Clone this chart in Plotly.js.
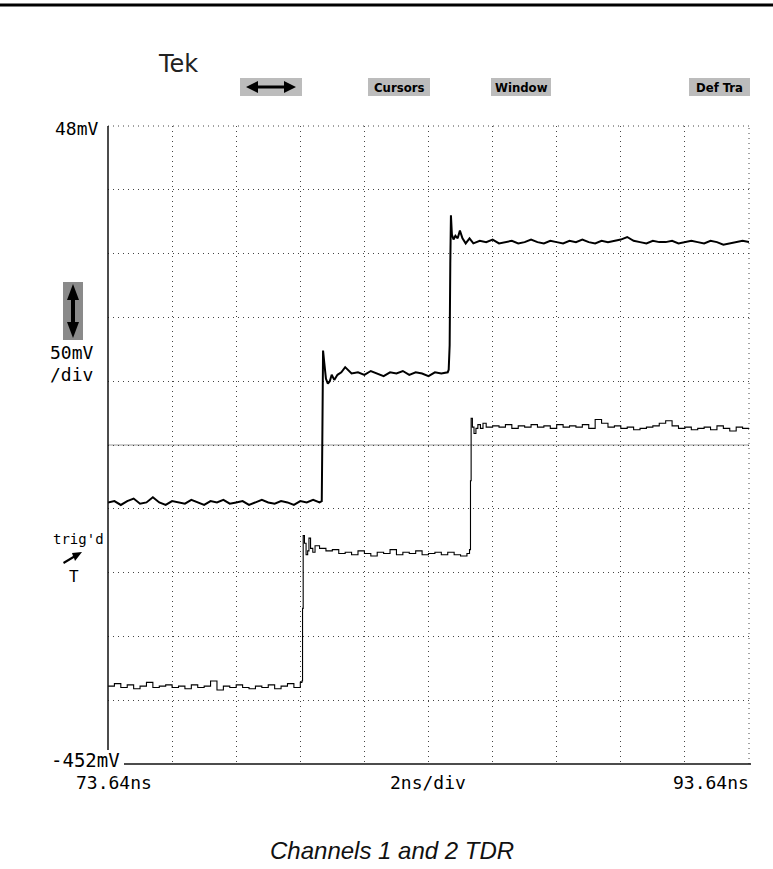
<!DOCTYPE html>
<html>
<head>
<meta charset="utf-8">
<script src="https://cdn.plot.ly/plotly-3.0.1.min.js"></script>
<style>html,body{margin:0;padding:0;background:#fff}#chart{width:773px;height:869px}</style>
</head>
<body>
<div id="chart"></div>
<script>
// ---------- data ----------
var xRange = [73.64, 93.64];      // ns
var yRange = [-452, 48];          // mV
var xDiv = 2, yDiv = 50;

// Channel 1 (thick trace)
var ch1_t = [
  73.64,73.84,74.04,74.24,74.44,74.64,74.84,75.04,75.24,75.44,
  75.64,75.84,76.04,76.24,76.44,76.64,76.84,77.04,77.24,77.44,
  77.64,77.84,78.04,78.24,78.44,78.64,78.84,79.04,79.24,79.44,
  79.64,79.84,80.04,80.24,
  80.31,80.33,80.35,80.39,80.44,80.50,80.56,80.62,80.70,80.80,80.92,
  81.04,81.24,81.44,81.64,81.84,82.04,82.24,82.44,82.64,82.84,
  83.04,83.24,83.44,83.64,83.84,84.04,84.24,
  84.27,84.30,84.32,84.34,84.37,84.42,84.48,84.55,84.62,84.70,84.80,84.92,
  85.04,85.24,85.44,85.64,85.84,86.04,86.24,86.44,86.64,86.84,
  87.04,87.24,87.44,87.64,87.84,88.04,88.24,88.44,88.64,88.84,
  89.04,89.24,89.44,89.64,89.84,90.04,90.24,90.44,90.64,90.84,
  91.04,91.24,91.44,91.64,91.84,92.04,92.24,92.44,92.64,92.84,
  93.04,93.24,93.44,93.64
];
var ch1_mv = [
  -247,-246,-249,-246,-244,-248,-247,-243,-247,-249,
  -246,-247,-248,-245,-247,-249,-246,-247,-245,-248,
  -247,-246,-249,-247,-245,-247,-248,-246,-247,-249,
  -246,-247,-245,-247,
  -246,-190,-128,-138,-150,-154,-152,-147,-151,-147,-145,
  -141,-146,-145,-147,-144,-146,-148,-145,-146,-144,
  -147,-145,-146,-148,-145,-146,-145,
  -143,-124,-60,-22,-37,-41,-38,-40,-34,-40,-44,-40,
  -44,-42,-43,-41,-44,-43,-42,-44,-43,-41,
  -43,-44,-42,-43,-44,-42,-43,-41,-43,-44,
  -42,-43,-42,-41,-39,-42,-43,-44,-42,-43,
  -43,-42,-44,-43,-42,-43,-44,-42,-43,-45,
  -44,-43,-42,-43
];

// Channel 2 (thin trace)
var ch2_t = [
  73.64,73.84,74.04,74.24,74.44,74.64,74.84,75.04,75.24,75.44,
  75.64,75.84,76.04,76.24,76.44,76.64,76.84,77.04,77.24,77.44,
  77.64,77.84,78.04,78.24,78.44,78.64,78.84,79.04,79.24,79.44,
  79.64,
  79.69,79.71,79.73,79.77,79.82,79.87,79.91,79.96,80.03,80.10,
  80.24,80.44,80.64,80.84,81.04,81.24,81.44,81.64,81.84,82.04,
  82.24,82.44,82.64,82.84,83.04,83.24,83.44,83.64,83.84,84.04,
  84.24,84.44,84.64,84.84,
  84.92,84.95,84.97,85.01,85.06,85.12,85.18,85.26,85.34,85.44,
  85.64,85.84,86.04,86.24,86.44,86.64,86.84,87.04,87.24,87.44,
  87.64,87.84,88.04,88.24,88.44,88.64,88.84,89.04,89.24,89.44,
  89.64,89.84,90.04,90.24,90.44,90.64,90.84,91.04,91.24,91.44,
  91.64,91.84,92.04,92.24,92.44,92.64,92.84,93.04,93.24,93.44,
  93.64
];
var ch2_mv = [
  -391,-389,-392,-390,-393,-391,-388,-392,-391,-390,
  -392,-391,-393,-390,-392,-391,-387,-394,-391,-392,
  -390,-392,-393,-391,-392,-390,-393,-391,-389,-392,
  -388,
  -387,-330,-273,-279,-288,-285,-275,-283,-286,-281,
  -283,-285,-284,-287,-286,-288,-285,-287,-289,-286,
  -287,-284,-288,-286,-287,-285,-288,-287,-286,-288,
  -286,-288,-289,-287,
  -284,-230,-181,-188,-193,-189,-186,-189,-185,-188,
  -187,-188,-186,-189,-187,-188,-186,-188,-187,-189,
  -186,-188,-187,-188,-186,-189,-182,-185,-188,-187,
  -189,-188,-190,-189,-188,-187,-185,-183,-187,-189,
  -188,-190,-189,-188,-190,-187,-189,-191,-188,-189,
  -190
];

// screen texts
var topLabel = "48mV", bottomLabel = "-452mV";
var xLeftLabel = "73.64ns", xMidLabel = "2ns/div", xRightLabel = "93.64ns";
var voltsDiv = ["50mV", "/div"];
var menuItems = ["", "Cursors", "Window", "Def Tra"];
var caption = "Channels 1 and 2 TDR";

// ---------- layout helpers (pixel -> paper) ----------
var L = 108, R = 749, T = 126, B = 764;
function X(px){ return (px - L) / (R - L); }
function Y(py){ return (B - py) / (B - T); }

var mono = "DejaVu Sans Mono";
function txt(text, px, py, xa, size, extra){
  var a = {text: text, x: X(px), y: Y(py), xref: "paper", yref: "paper",
    xanchor: xa, yanchor: "middle", showarrow: false,
    font: {family: mono, size: size, color: "#000"}};
  if (extra) for (var k in extra) a[k] = extra[k];
  return a;
}

var annotations = [
  txt(topLabel, 101, 128, "right", 18),
  txt(bottomLabel, 49, 760, "left", 19),
  txt(xLeftLabel, 74, 782, "left", 18),
  txt(xMidLabel, 428, 782, "center", 18),
  txt(xRightLabel, 751, 782, "right", 18),
  txt(voltsDiv[0], 48, 352, "left", 18),
  txt(voltsDiv[1], 48, 374, "left", 18),
  txt("trig'd", 51, 539, "left", 14),
  txt("T", 74, 576, "center", 16),
  {text: "Tek", x: X(156), y: Y(64), xref: "paper", yref: "paper", xanchor: "left", yanchor: "middle",
   showarrow: false, font: {family: "DejaVu Sans", size: 24, color: "#222"}},
  {text: caption, x: X(392), y: Y(851), xref: "paper", yref: "paper", xanchor: "center", yanchor: "middle",
   showarrow: false, font: {family: "Liberation Sans", size: 24, style: "italic", color: "#111"}}
];

var menuBoxes = [[240, 302], [368, 430], [491, 551], [689, 750]];
var shapes = [];
menuBoxes.forEach(function(b, i){
  shapes.push({type: "rect", xref: "paper", yref: "paper", x0: X(b[0]), x1: X(b[1]), y0: Y(96), y1: Y(78),
    fillcolor: "#bcbcbc", line: {width: 0}, layer: "above"});
  if (menuItems[i]) annotations.push({text: "<b>" + menuItems[i] + "</b>", x: X((b[0] + b[1]) / 2), y: Y(87),
    xref: "paper", yref: "paper", xanchor: "center", yanchor: "middle", showarrow: false,
    font: {family: "DejaVu Sans Condensed", size: 13, color: "#000"}});
});
function path(pts){
  return "M" + pts.map(function(p){ return X(p[0]) + "," + Y(p[1]); }).join(" L") + " Z";
}
// horizontal double arrow in first menu box
shapes.push({type: "path", xref: "paper", yref: "paper", fillcolor: "#000", line: {width: 0}, layer: "above",
  path: path([[246,87],[258,81],[258,85.5],[284,85.5],[284,81],[296,87],[284,93],[284,88.5],[258,88.5],[258,93]])});
// vertical double arrow icon
shapes.push({type: "rect", xref: "paper", yref: "paper", x0: X(63), x1: X(83), y0: Y(340), y1: Y(282),
  fillcolor: "#8a8a8a", line: {width: 0}, layer: "above"});
shapes.push({type: "path", xref: "paper", yref: "paper", fillcolor: "#000", line: {width: 0}, layer: "above",
  path: path([[73,284],[79,300],[75,300],[75,322],[79,322],[73,338],[67,322],[71,322],[71,300],[67,300]])});
// trigger slanted arrow
shapes.push({type: "path", xref: "paper", yref: "paper", fillcolor: "#000", line: {width: 0}, layer: "above",
  path: path([[63,562],[64,564],[74,558],[75,561],[82,552],[72,553],[73,556]])});
// axes frame lines
shapes.push({type: "line", xref: "paper", yref: "paper", x0: 0, x1: 0, y0: Y(750), y1: 1,
  line: {color: "#111", width: 1.5}, layer: "above"});
shapes.push({type: "line", xref: "paper", yref: "paper", x0: X(124), x1: X(751), y0: 0, y1: 0,
  line: {color: "#111", width: 1.5}, layer: "above"});
// dotted top and right graticule edges
shapes.push({type: "line", xref: "paper", yref: "paper", x0: 0, x1: 1, y0: 1, y1: 1,
  line: {color: "#444", width: 1, dash: "1px,4px"}, layer: "below"});
shapes.push({type: "line", xref: "paper", yref: "paper", x0: 1, x1: 1, y0: 0, y1: 1,
  line: {color: "#444", width: 1, dash: "1px,4px"}, layer: "below"});
// dense center graticule line
shapes.push({type: "line", xref: "paper", yref: "paper", x0: 0, x1: 1, y0: 0.5, y1: 0.5,
  line: {color: "#9a9a9a", width: 1}, layer: "below"});
// page rule at the very top
shapes.push({type: "line", xref: "paper", yref: "paper", x0: X(0), x1: X(773), y0: Y(5), y1: Y(5),
  line: {color: "#000", width: 3}});

var traces = [
  {x: ch1_t, y: ch1_mv, type: "scatter", mode: "lines", line: {color: "#000", width: 2}, hoverinfo: "skip"},
  {x: ch2_t, y: ch2_mv, type: "scatter", mode: "lines", line: {color: "#000", width: 1.1, shape: "hv"}, hoverinfo: "skip"}
];

var axisCommon = {showgrid: true, gridcolor: "#444", gridwidth: 1, griddash: "1px,4px",
  showticklabels: false, ticks: "", zeroline: false, showline: false, fixedrange: true};
var layout = {
  width: 773, height: 869,
  margin: {l: L, r: 773 - R, t: T, b: 869 - B, pad: 0},
  paper_bgcolor: "#fff", plot_bgcolor: "#fff",
  showlegend: false,
  xaxis: Object.assign({range: xRange, tick0: xRange[0], dtick: xDiv, tickmode: "linear"}, axisCommon),
  yaxis: Object.assign({range: yRange, tick0: yRange[1], dtick: yDiv, tickmode: "linear"}, axisCommon),
  annotations: annotations,
  shapes: shapes
};
Plotly.newPlot("chart", traces, layout, {displayModeBar: false, staticPlot: true});
</script>
</body>
</html>
